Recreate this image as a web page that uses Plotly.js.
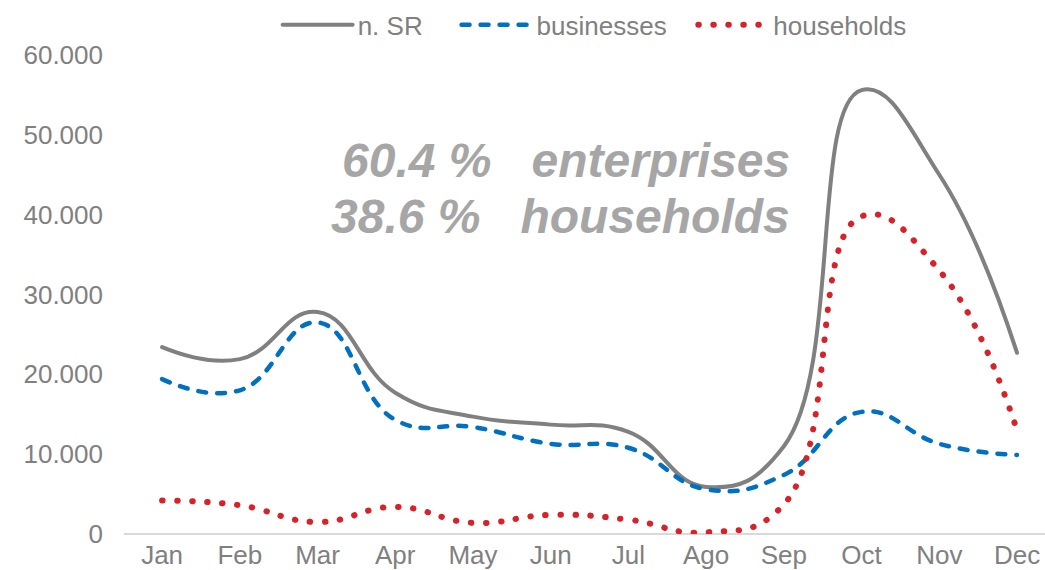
<!DOCTYPE html>
<html>
<head>
<meta charset="utf-8">
<script src="https://cdn.plot.ly/plotly-3.0.1.min.js"></script>
<style>
html,body{margin:0;padding:0;background:#fff;}
#chart{width:1045px;height:570px;}
.js-line{stroke-linecap:round !important;}
</style>
</head>
<body>
<div id="chart"></div>
<script>
const months = ['Jan','Feb','Mar','Apr','May','Jun','Jul','Ago','Sep','Oct','Nov','Dec'];
const nSR = [23400, 21900, 27800, 17700, 14700, 13700, 12800, 5900, 11000, 55600, 45000, 22700];
const businesses = [19400, 18000, 26500, 14300, 13400, 11300, 10800, 5600, 7400, 15300, 11300, 9900];
const households = [4200, 3600, 1500, 3400, 1400, 2400, 1800, 200, 3700, 39800, 33000, 13000];
const seriesNames = ['n. SR', 'businesses', 'households'];
const noteLines = ['60.4 %\u00a0\u00a0\u00a0enterprises', '38.6 %\u00a0\u00a0\u00a0households'];

const FONT = 'Liberation Sans, Arial, sans-serif';
const pad = ['\u00a0\u00a0\u00a0\u00a0', '\u00a0\u00a0\u00a0', ''];
const traces = [
  {x: months, y: nSR, name: seriesNames[0] + pad[0], type: 'scatter', mode: 'lines',
   line: {color: '#808080', width: 4, shape: 'spline', smoothing: 1.3}},
  {x: months, y: businesses, name: seriesNames[1] + pad[1], type: 'scatter', mode: 'lines',
   line: {color: '#0070c0', width: 4.5, shape: 'spline', smoothing: 1.3, dash: '8px,11px'}},
  {x: months, y: households, name: seriesNames[2] + pad[2], type: 'scatter', mode: 'lines',
   line: {color: '#d7222a', width: 6, shape: 'spline', smoothing: 1.3, dash: '0.5px,14.5px'}}
];
const layout = {
  width: 1045, height: 570,
  margin: {l: 124, r: 0, t: 55, b: 36},
  paper_bgcolor: '#ffffff', plot_bgcolor: '#ffffff',
  separators: ',.',
  font: {family: FONT, size: 26, color: '#808080'},
  showlegend: true,
  legend: {orientation: 'h', x: 0.511, xanchor: 'center', y: 1.063, yanchor: 'middle',
           font: {family: FONT, size: 26, color: '#808080'}, itemwidth: 70, bgcolor: 'rgba(0,0,0,0)'},
  xaxis: {type: 'category', range: [-0.49, 11.36], showgrid: false, zeroline: false,
          showline: false, ticks: '', ticklabelstandoff: 3,
          tickfont: {family: FONT, size: 26, color: '#808080'}},
  yaxis: {range: [0, 60000], tickvals: [0, 10000, 20000, 30000, 40000, 50000, 60000],
          tickformat: ',d', showgrid: false, zeroline: true, zerolinecolor: '#d9d9d9', zerolinewidth: 2,
          showline: false, ticks: '', ticklabelstandoff: 20,
          tickfont: {family: FONT, size: 26, color: '#808080'}},
  annotations: [
    {text: noteLines[0], xref: 'paper', yref: 'paper', x: (792-124)/921, y: (534-160)/479,
     xanchor: 'right', yanchor: 'middle', showarrow: false,
     font: {family: FONT, size: 48, color: '#a6a6a6', weight: 'bold', style: 'italic'}},
    {text: noteLines[1], xref: 'paper', yref: 'paper', x: (792-124)/921, y: (534-217)/479,
     xanchor: 'right', yanchor: 'middle', showarrow: false,
     font: {family: FONT, size: 48, color: '#a6a6a6', weight: 'bold', style: 'italic'}}
  ]
};
Plotly.newPlot('chart', traces, layout, {displayModeBar: false, staticPlot: true});
</script>
</body>
</html>
